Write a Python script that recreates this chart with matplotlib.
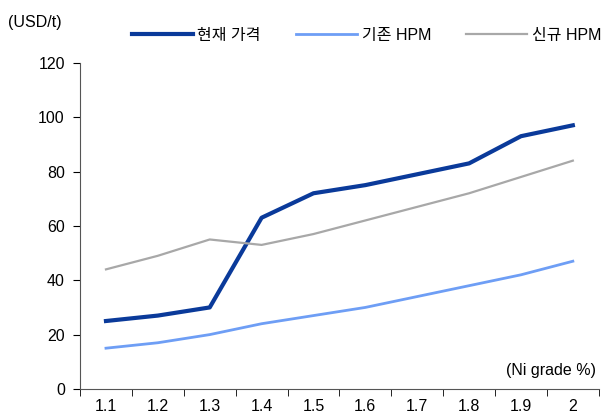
import matplotlib.pyplot as plt
import numpy as np

plt.rcParams['font.family'] = ['Liberation Sans', 'Noto Sans CJK KR', 'DejaVu Sans']

grades = ["1.1", "1.2", "1.3", "1.4", "1.5", "1.6", "1.7", "1.8", "1.9", "2"]
current_price = [25, 27, 30, 63, 72, 75, 79, 83, 93, 97]
old_hpm = [15, 17, 20, 24, 27, 30, 34, 38, 42, 47]
new_hpm = [44, 49, 55, 53, 57, 62, 67, 72, 78, 84]

fig = plt.figure(figsize=(6.11, 4.16), dpi=100)
ax = fig.add_axes([0.131, 0.065, 0.849, 0.784])

x = np.arange(len(grades))
ax.plot(x, current_price, color='#0a3a9a', lw=3, label='현재 가격')
ax.plot(x, old_hpm, color='#6e9ef5', lw=2, label='기존 HPM')
ax.plot(x, new_hpm, color='#a8a8a8', lw=1.6, label='신규 HPM')

ax.set_xlim(-0.5, len(grades) - 0.5)
ax.set_ylim(0, 120)
ax.set_yticks(range(0, 121, 20))
ax.set_xticks(x)
ax.set_xticklabels(grades)
ax.set_xticks(np.arange(-0.5, len(grades), 1.0), minor=True)
ax.tick_params(axis='x', which='major', length=0, labelsize=11.5, pad=7)
ax.tick_params(axis='x', which='minor', length=5, direction='out')
ax.tick_params(axis='y', length=5, labelsize=11.5, pad=6)
for s in ['top', 'right']:
    ax.spines[s].set_visible(False)
for s in ['left', 'bottom']:
    ax.spines[s].set_color('#555555')

fig.text(0.013, 0.945, '(USD/t)', fontsize=11.5, va='center')
ax.text(0.995, 0.035, '(Ni grade %)', transform=ax.transAxes, ha='right',
        va='bottom', fontsize=11.5)
fig.legend(loc='center', bbox_to_anchor=(0.6, 0.915), ncol=3, frameon=False,
           fontsize=11.5, handlelength=3.8, columnspacing=2.2, handletextpad=0.3)

plt.savefig('out.png', dpi=100)
